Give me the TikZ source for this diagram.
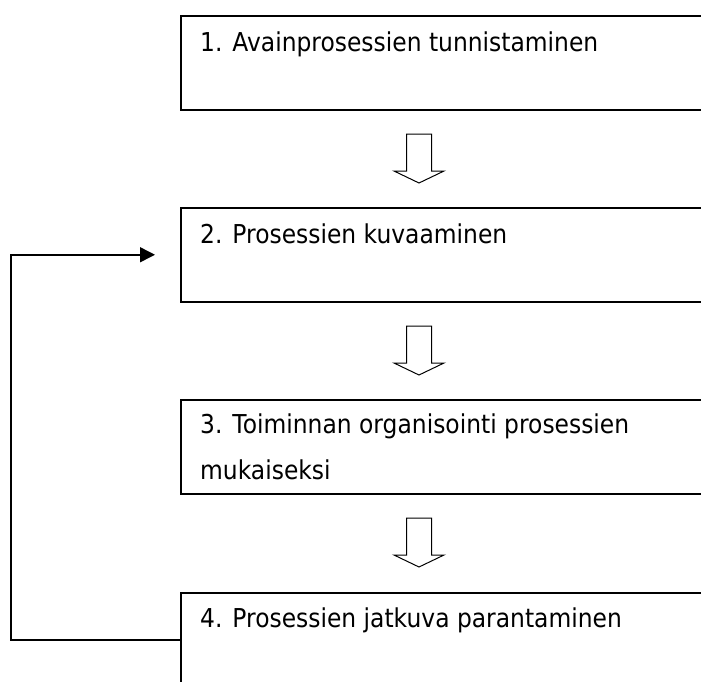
\documentclass[tikz,border=0pt]{standalone}
\usepackage{fontspec}
\setmainfont{DejaVu Sans}[FakeStretch=0.9]
\usetikzlibrary{arrows.meta}

\tikzset{
    procbox/.style={draw, line width=1.5pt, anchor=north west,
        minimum width=560pt, minimum height=94pt, inner sep=0pt},
    proctext/.style={anchor=base west, inner sep=0pt, align=left,
        font=\fontsize{26}{46}\selectfont},
}

% hollow down arrow, #1 = centre x, #2 = top y
\newcommand{\hollowarrow}[2]{%
    \draw[line width=1pt, line join=miter]
        (#1-12.5,#2) -- (#1+12.5,#2) -- (#1+12.5,#2+37) -- (#1+25,#2+37)
        -- (#1,#2+49) -- (#1-25,#2+37) -- (#1-12.5,#2+37) -- cycle;
}

\begin{document}
\begin{tikzpicture}[x=1pt, y=-1pt]
    \clip (0,0) rectangle (701,681);

    \node[procbox] (b1) at (180,15) {};
    \node[procbox] (b2) at (180,207) {};
    \node[procbox] (b3) at (180,399) {};
    \node[procbox] (b4) at (180,592) {};

    \node[proctext] (t1) at (200,51) {1. Avainprosessien tunnistaminen};
    \node[proctext] (t2) at (200,243) {2. Prosessien kuvaaminen};
    % base anchor sits on the last line here
    \node[proctext] (t3) at (200,479) {3. Toiminnan organisointi prosessien\\mukaiseksi};
    \node[proctext] (t4) at (200,627) {4. Prosessien jatkuva parantaminen};

    \foreach \y in {134,326,518}
        {\hollowarrow{419}{\y}}

    \coordinate (back) at (11,0);
    \draw[line width=1.5pt, -{Triangle[length=15pt,width=15pt]}, shorten >=25pt]
        (b4.west) -- (back |- b4.west) -- (back |- b2.west) -- (b2.west);
\end{tikzpicture}
\end{document}
